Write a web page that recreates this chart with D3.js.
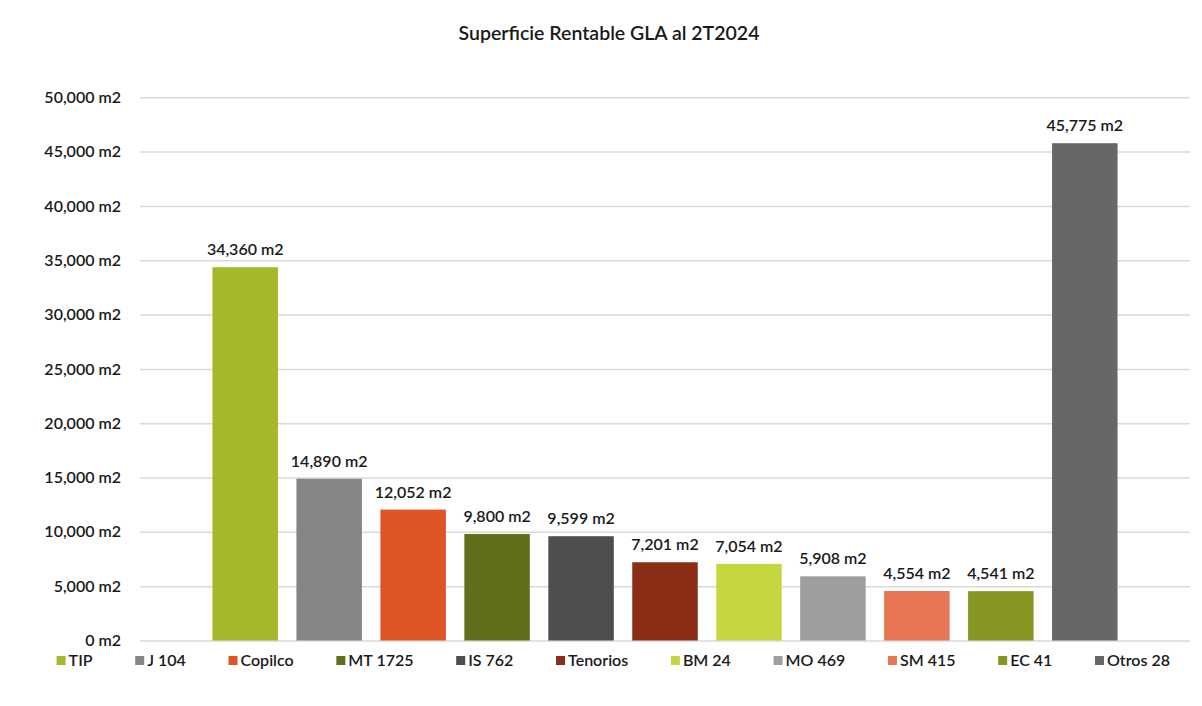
<!DOCTYPE html>
<html>
<head>
<meta charset="utf-8">
<script src="https://cdn.jsdelivr.net/npm/d3@7"></script>
<style>
  body { margin: 0; background: #fff; }
  text { font-family: Lato, "Liberation Sans", sans-serif; }
</style>
</head>
<body>
<svg id="chart"></svg>
<script>
// datos del gráfico
const sites = ["TIP", "J 104", "Copilco", "MT 1725", "IS 762", "Tenorios", "BM 24", "MO 469", "SM 415", "EC 41", "Otros 28"];
const gla = [34360, 14890, 12052, 9800, 9599, 7201, 7054, 5908, 4554, 4541, 45775];
const colors = ["#A6B72B", "#858585", "#E05527", "#636E1A", "#4E4E4E", "#8A2E16", "#C5D63F", "#9E9E9E", "#E57553", "#879522", "#676767"];
const yTicks = [0, 5000, 10000, 15000, 20000, 25000, 30000, 35000, 40000, 45000, 50000];
const title = "Superficie Rentable GLA al 2T2024";

const W = 1202, H = 706;
const plot = { left: 140, right: 1190, top: 97.3, bottom: 640.5 };

const svg = d3.select("#chart")
    .attr("width", W)
    .attr("height", H);

const fmt = v => d3.format(",")(v) + " m2";

const x = d3.scaleBand()
    .domain(sites)
    .range([plot.left, plot.right])
    .paddingInner(0.22)
    .paddingOuter(0.863);

const y = d3.scaleLinear()
    .domain([0, 50000])
    .range([plot.bottom, plot.top]);

// titulo
svg.append("text")
    .attr("x", 609)
    .attr("y", 40)
    .attr("text-anchor", "middle")
    .attr("font-size", 19.5)
    .attr("font-weight", 600)
    .attr("fill", "#1a1a1a")
    .text(title);

// grid + eje y
const yAxis = svg.append("g")
    .attr("transform", `translate(${plot.left},0)`)
    .call(d3.axisLeft(y).tickValues(yTicks).tickSize(-(plot.right - plot.left)).tickFormat(fmt).tickPadding(19));

yAxis.select(".domain").remove();
yAxis.selectAll(".tick line")
    .attr("stroke", "#d9d9d9")
    .attr("stroke-width", 1.5);
yAxis.selectAll(".tick text")
    .attr("font-size", 16)
    .attr("font-weight", 600)
    .attr("fill", "#1a1a1a")
    .attr("font-family", "Lato, 'Liberation Sans', sans-serif");

// barras
svg.append("g")
    .selectAll("rect")
    .data(sites)
    .enter().append("rect")
    .attr("x", d => x(d))
    .attr("width", x.bandwidth())
    .attr("y", (d, i) => y(gla[i]))
    .attr("height", (d, i) => y(0) - y(gla[i]))
    .attr("fill", (d, i) => colors[i]);

// etiquetas de datos
svg.append("g")
    .selectAll("text")
    .data(sites)
    .enter().append("text")
    .attr("x", d => x(d) + x.bandwidth() / 2)
    .attr("y", (d, i) => y(gla[i]) - 12)
    .attr("text-anchor", "middle")
    .attr("font-size", 16)
    .attr("font-weight", 600)
    .attr("fill", "#1a1a1a")
    .text((d, i) => fmt(gla[i]));

// leyenda
const legendStart = 56.6, legendEnd = 1170, sq = 9, sqGap = 3;
const legend = svg.append("g");
const items = legend.selectAll("g")
    .data(sites)
    .enter().append("g");

items.append("rect")
    .attr("width", sq)
    .attr("height", sq)
    .attr("y", 656)
    .attr("fill", (d, i) => colors[i]);

items.append("text")
    .attr("x", sq + sqGap)
    .attr("y", 665.5)
    .attr("font-size", 16)
    .attr("font-weight", 600)
    .attr("fill", "#1a1a1a")
    .text(d => d);

const widths = [];
items.select("text").each(function() { widths.push(sq + sqGap + this.getComputedTextLength()); });
const gap = (legendEnd - legendStart - d3.sum(widths)) / (sites.length - 1);
let cx = legendStart;
items.attr("transform", (d, i) => {
    const t = `translate(${cx},0)`;
    cx += widths[i] + gap;
    return t;
});
</script>
</body>
</html>
